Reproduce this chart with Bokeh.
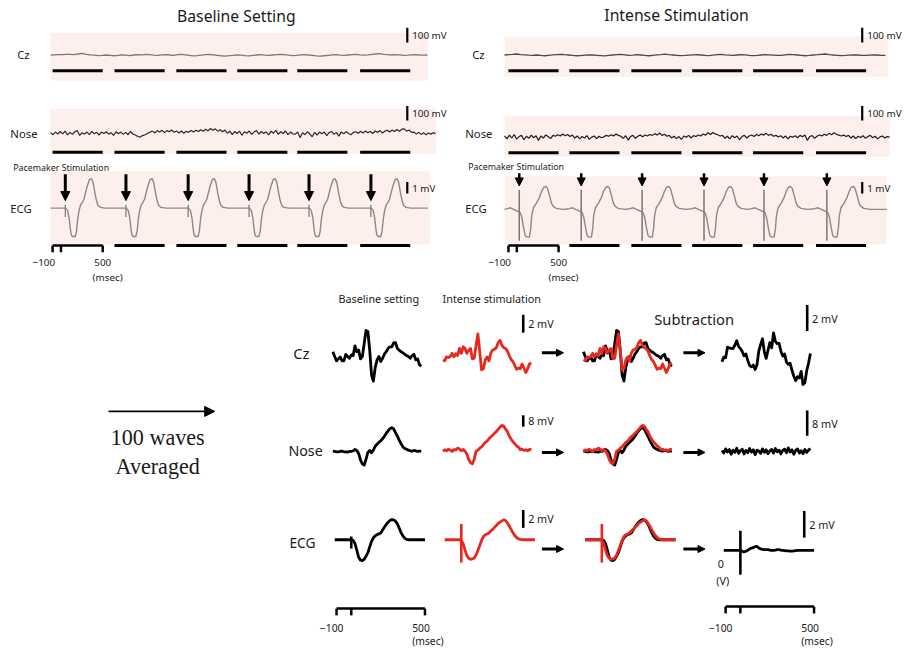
import numpy as np
from bokeh.plotting import figure
from bokeh.models import Range1d, Arrow, NormalHead
from bokeh.embed import file_html
from bokeh.resources import INLINE
from bokeh.core.properties import value

# ======================= DATA =======================
# ---- raw recordings (top). Cz / Nose in display units where 100 = "100 mV" bar ----
CZ_BASE_DT_MS = 47.5
CZ_BASE_RAW = [0, 2, 4, 3, 6, 5, 3, 8, 12, 6, 2, 0, -3, -2, 1, -1, -4, -2, 2, 0, -3, 1, 4, 2, 5, 3, 0,
               -2, 2, 4, 1, -1, 3, 6, 2, -2, -5, -3, 0, 3, 5, 2, -1, -4, -6, -3, -1, 2, 0, -3, -5, -2,
               1, 3, 0, -2, 1, 4, 6, 3, 0, -3, -1, 2, 4, 1, -2, -5, -7, -4, -1, 2, 3, 0, -2, 1, 3, 5,
               2, 0, 2, 5, 8, 10, 6, 3, 1, 4, 2, -1, 0, 2, 3, 1, 0, 1]
CZ_INT_DT_MS = 48.0
CZ_INT_RAW = [1, 3, 5, 8, 4, 2, 0, -1, 1, -2, -4, -1, 2, 4, 6, 3, 1, -2, -4, -3, 0, 2, 1, -1, -3, -5,
              -2, 1, 3, 5, 2, -1, 0, 3, 1, -2, -4, -1, 2, 4, 7, 3, 1, -1, -3, -2, 0, 2, 4, 1, -2, -3,
              0, 3, 5, 2, 0, -2, 1, 3, 2, -1, -3, -2, 1, 4, 2, 0, -2, -1, 2, 5, 3, 1, -1, -4, -2, 1,
              3, 6, 8, 4, 1, -1, -3, -2, 0, 2, 1, -1, -2, 0, 2, 1, -1, -2]
NOSE_DT_MS = 29.0
NOSE_BASE_RAW = [4, -10, 8, -6, 12, -4, 15, -11, 6, -8, 10, 18, -15, 4, -6, 8, -10, 12, -4, 6, -12,
                 8, -2, 10, -6, 4, -14, 10, -4, 8, -8, 6, -10, 12, -6, -12, -22,
                 -26, -16, -10, 0,
                 6, 16, 2, 18, 8, 20, 4, 18, 10, 22, 6, 16, 2, 15, 0, 14, 6, 18, 8, 20,
                 12, 24, 14, 28, 16, 32, 20, 30, 14, 24, 10, 22,
                 0, 14, -10, 12, -2, 14, -14, 10, 0, 15, -8, 9, 18, -6, 12, -2, 10, -12, 14, 0,
                 20, -8, 10, -2, 15, -10, 8, -4,
                 -6, 8, -30, 4, -10, 10, -4, -24, 6, -12, 8, -4, 8, -16, 4, 12, -8, 6, -20, 9,
                 -4, 10, -2, -10, 6,
                 10, 0, 14, 2, 16, 4, 12, -2, 15, 6, 18, 2, 14, 20, 8, 22, 12, 26, 14, 28,
                 30, 14, 22, 6, 8, -6, 6, -8, 4, -10, 2, -6, 4, -4]
NOSE_INT_RAW = [8, -12, 14, -6, 18, -14, 4, 12, -18, 6, -8, 14, -4, 10, -22, 8, -6, 15, 4, -10, 12,
                6, 16, 8, 22, 10, 18, 4, 14, -6, 8, -12, 4, -6, 10, -15, 0, 8, -10, 6, -4,
                2, 12, 6, 16, 8, 22, 12, 6, -8, 10, -20, 4, 12, -8, 6, 14, 2, 15, 8, 18,
                12, 24, 14, 28, 12, 20, 6, 12, -6, 6, -10, 4, -16, 8, 0, 12, -6, 10, 4, 15,
                8, 22, 14, 30, 18, 32, 22, 16, 8, 12, -8, 6, -12, 10, -4, 8, -18, 4, 12, -6,
                8, 15, 4, 18, 10, 22, 14, 26, 12, 20, 6, 12, 2, 10, -6, 8, -12, 6, 0, 10,
                -4, 12, 2, 14, -22, 4, 10, -8, 6, 15, 8, 20, 12, 26, 16, 30, 20, 14, 8, 14,
                4, 12, -6, 8, -10, 6, -2, 10, -8, 4, 12, -4, 6, -12, 2, 8, -6, 4, 0]
RAW_END_BASE_MS = 4518
RAW_END_INT_MS = 4576
STIM_BASE_MS = [176, 902, 1647, 2376, 3094, 3835]
STIM_INT_MS = [176, 918, 1647, 2388, 3106, 3859]
EPOCH_BASE_MS = [24, 765, 1506, 2235, 2953, 3706]
EPOCH_INT_MS = [47, 776, 1518, 2247, 2976, 3729]
EPOCH_SCALE_MS = [-100, 0, 500]
# single ECG beat (ms relative to pacing, mV)
BEAT_BASE_T = [-30, 0, 27, 47, 59, 71, 86, 118, 133, 149, 165, 184, 204, 224, 243, 263, 290, 314,
               333, 353, 373, 392, 420, 478]
BEAT_BASE_V = [0, 0, -0.2, -0.91, -1.77, -2.34, -2.49, -2.49, -2.06, -0.91, -0.2, 0.29, 0.51, 0.8,
               1.37, 1.94, 2.51, 2.57, 2.23, 1.37, 0.66, 0.23, 0.06, 0]
BEAT_INT_T = [-145, -106, -67, -27, 0, 12, 31, 51, 71, 90, 122, 137, 149, 169, 188, 208, 239, 267,
              294, 318, 337, 365, 384, 404, 443, 522]
BEAT_INT_V = [0.06, 0.14, 0, -0.14, -0.2, -0.29, -0.71, -1.57, -2.29, -2.43, -2.43, -1.71, -0.57,
              0.14, 0.34, 0.57, 1.0, 1.57, 1.94, 2.0, 1.86, 1.14, 0.57, 0.29, 0.09, 0]
ARTIFACT_BASE_RAW = [0.29, -0.77]
ARTIFACT_INT_RAW = [1.71, -2.74]
RAW_SCALE = {"Cz": 100, "Nose": 100, "ECG": 1}
RAW_UNIT = {"Cz": "100 mV", "Nose": "100 mV", "ECG": "1 mV"}

# ---- 100-wave averages (mV) ----
AVG_T0_MS = -125.0
AVG_DT_MS = 12.5
CZ_AVG_BASE = [0.18, -0.36, -0.84, -0.62, -0.40, -0.84, -0.84, -0.11, -0.36, -0.55,
               -0.18, -0.25, 0.84, 0.18, 0.36, -0.62, -0.36, 1.09, 2.55, 2.44,
               0.36, -2.4, -3.1, -1.56, -0.73, -0.36, -0.91, -0.55, -0.07, 0.18,
               0.55, 0.73, 0.73, 1.16, 1.20, 0.55, 0.36, 0.18, 0.07, -0.11,
               -0.25, -0.36, -0.55, -0.25, -0.11, -0.73, -0.62, -1.27, -1.45]
CZ_AVG_INT = [-0.73, -0.84, -0.40, -0.47, -0.36, 0.00, -0.40, -0.04, -0.25, 0.55,
              0.00, 0.73, 0.55, 0.00, 0.36, 0.55, -0.62, -0.55, 0.91, 2.18,
              0.18, -1.85, -1.71, -0.73, -0.40, -0.84, 0.04, 0.36, 0.47, 0.62,
              1.20, 1.45, 0.91, 0.62, 0.55, 0.25, -0.25, -0.69, -0.91, -1.35,
              -1.78, -1.64, -1.71, -1.20, -1.64, -2.15, -1.71, -1.20, -1.09]
CZ_AVG_SUB = [-0.68, -0.33, -0.38, 0.43, 0.38, 0.35, 0.33, 0.58, 0.93, 0.50,
              0.33, 0.10, -0.23, -0.08, -0.58, -0.98, -1.08, -0.93, -1.28, -0.93,
              0.13, 0.63, 1.08, 0.08, -0.43, 0.20, 0.78, 0.38, 1.53, 0.88,
              0.70, 0.73, 0.13, -0.25, -0.08, -0.70, -0.88, -0.80, -1.33, -1.80,
              -2.13, -1.83, -1.93, -1.43, -2.43, -2.30, -1.38, -0.78, -0.05]
NOSE_AVG_BASE = [0, -0.23, -0.46, -0.46, -0.23, 0, -0.46, -0.46, -0.69, -0.23,
                 -0.23, 0.23, 1.14, 0.46, -1.6, -6.17, -8.91, -9.83, -5.71, -0.91,
                 0.46, -1.14, 0.69, 3.43, 4.8, 6.17, 7.31, 8.69, 10.51, 12.57,
                 14.17, 15.77, 16.46, 15.54, 13.03, 10.51, 7.77, 5.26, 2.97, 1.83,
                 1.37, 0.69, 0.23, 0, 0.46, 0.23, -0.23, 0, 0]
NOSE_AVG_INT = [0, 0.91, 0.23, 1.37, 0.69, -0.23, 1.14, 0.69, 2.06, 1.6,
                0.23, 1.14, 0, -2.06, -5.71, -8.23, -8.91, -5.71, 0, 0.69,
                2.06, 2.97, 4.57, 6.17, 7.09, 8.69, 10.06, 11.2, 12.57, 13.71,
                15.31, 16.91, 18.06, 17.6, 15.54, 13.71, 10.74, 8.46, 6.63, 5.26,
                3.66, 2.74, 1.14, 1.37, 0.46, 0.91, 0.23, 1.14, 1.14]
NOSE_AVG_SUB = [0.3, -0.5, 0.8, -0.2, 0.6, -0.9, 0.4, -0.3, 1.0, -0.6,
                0.2, 0.7, -0.8, 0.3, -0.4, 0.9, -0.2, 0.5, -1.0, 0.4,
                0.1, -0.6, 0.8, -0.3, 0.5, -0.7, 0.2, 0.6, -0.5, 0.9,
                -0.1, 0.4, -0.8, 0.3, 0.7, -0.4, 1.1, -0.2, 0.5, -0.9,
                0.3, 0.8, -0.5, 0.2, -0.7, 0.6, -0.3, 0.4, 0.9]
ECG_T0_MS = -112.5
ECG_AVG_BASE = [0, 0, 0, 0, 0, 0, 0, 0, 0, 0,
                -0.07, -0.44, -1.16, -1.96, -2.29, -2.33, -2.18, -1.85, -1.45, -0.80,
                -0.18, 0.22, 0.44, 0.58, 0.65, 0.76, 1.09, 1.42, 1.71, 1.96,
                2.15, 2.25, 2.22, 2.07, 1.78, 1.31, 0.80, 0.44, 0.18, 0.04,
                0, 0, 0, 0, 0, 0, 0, 0, 0, 0]
ECG_AVG_INT = [0, 0, 0, 0, 0, 0, 0, 0, 0, -0.07,
               -0.44, -1.16, -1.78, -2.07, -2.18, -2.15, -2.04, -1.71, -1.20, -0.65,
               -0.07, 0.36, 0.55, 0.65, 0.76, 0.98, 1.16, 1.38, 1.60, 1.82,
               1.96, 2.11, 2.22, 2.15, 1.89, 1.53, 1.16, 0.80, 0.47, 0.25,
               0.11, 0.04, 0, 0, 0, 0, 0, 0, 0, 0]
ECG_AVG_SUB = [0, 0, 0, 0, 0, 0, 0, 0, 0, 0,
               -0.07, -0.12, -0.07, 0, 0.10, 0.17, 0.20, 0.27, 0.29, 0.17,
               0.10, 0.07, 0.05, 0.05, 0.05, 0.02, 0, 0, 0.02, 0.05,
               0.05, 0.02, 0, -0.02, -0.05, -0.05, -0.07, -0.07, -0.05, -0.02,
               0, 0, 0, 0, 0, 0, 0, 0, 0, 0]
ARTIFACT_AVG_BASE = [0.36, -0.98]
ARTIFACT_AVG_INT = [1.75, -2.55]
ARTIFACT_AVG_SUB = [1.46, -1.83]
AVG_SCALE_MV = {"Cz": 2, "Nose": 8, "ECG": 2}

# ======================= LAYOUT / STYLE =======================
FONT = "Noto Sans"
SERIF = "Liberation Serif"
TXT = "#1a1a1a"
RED = "#e8281e"
PINK = "#fcefec"
PW, PH = 902, 651
REF_W, REF_H = 918, 667          # layout is laid out on the reference's frame
FS = PW / REF_W                  # font scale so text keeps its relative size

p = figure(width=PW, height=PH, x_range=Range1d(0, REF_W), y_range=Range1d(REF_H, 0),
           output_backend="svg", toolbar_location=None, min_border=0,
           x_axis_location=None, y_axis_location=None, outline_line_color=None,
           background_fill_color="white", border_fill_color="white")
try:
    p.grid.visible = False
except Exception:
    pass


def label(x, y, t, size, align="left", font=FONT, color=TXT):
    p.text(x=[x], y=[y], text=[t], text_font=value(font), text_font_size=f"{size * FS:.2f}px",
           text_align=align, text_baseline="middle", text_color=color)


def vbar_scale(x, ytop, length, txt, size=10, w=2.5):
    p.segment(x0=[x], y0=[ytop], x1=[x], y1=[ytop + length], line_width=w, line_color="black")
    label(x + 5, ytop + length / 2, txt, size)


def arrow(x0, y0, x1, y1, w, hs):
    p.add_layout(Arrow(end=NormalHead(size=hs, fill_color="black", line_color="black", line_width=1),
                       x_start=x0, y_start=y0, x_end=x1, y_end=y1,
                       line_width=w, line_color="black"))


# ---------- top section ----------
TOP_PX_PER_MS = 0.085
TOP = [
    dict(x0=51, title="Baseline Setting", title_x=240, title_y=16,
         cz=CZ_BASE_RAW, cz_dt=CZ_BASE_DT_MS, cz_col="#7a7a7a",
         nose=NOSE_BASE_RAW, nose_col="#2a2a2a",
         beat_t=BEAT_BASE_T, beat_v=BEAT_BASE_V, stims=STIM_BASE_MS, end=RAW_END_BASE_MS,
         art=ARTIFACT_BASE_RAW, art_w=1.2, epochs=EPOCH_BASE_MS,
         panels={"Cz": (51, 435, 33, 82), "Nose": (51, 443, 111, 157), "ECG": (51, 437, 175, 250)},
         rows={"Cz": 56, "Nose": 136, "ECG": 212.7},
         bars={"Cz": 72, "Nose": 155.5, "ECG": 251},
         scale_x=414, scale_top={"Cz": 28, "Nose": 108, "ECG": 186},
         lab_x={"Cz": 17, "Nose": 10, "ECG": 10}, lab_y={"Cz": 55, "Nose": 136, "ECG": 213},
         pace=(13, 172), arrow=(178, 205, 3, 9)),
    dict(x0=513, title="Intense Stimulation", title_x=688, title_y=15,
         cz=CZ_INT_RAW, cz_dt=CZ_INT_DT_MS, cz_col="#4a4a4a",
         nose=NOSE_INT_RAW, nose_col="#1e1e1e",
         beat_t=BEAT_INT_T, beat_v=BEAT_INT_V, stims=STIM_INT_MS, end=RAW_END_INT_MS,
         art=ARTIFACT_INT_RAW, art_w=1.5, epochs=EPOCH_INT_MS,
         panels={"Cz": (513, 903, 37, 78), "Nose": (513, 905, 118, 160), "ECG": (513, 902, 180, 250)},
         rows={"Cz": 56, "Nose": 140, "ECG": 214},
         bars={"Cz": 72, "Nose": 156, "ECG": 251},
         scale_x=877, scale_top={"Cz": 28, "Nose": 108, "ECG": 186},
         lab_x={"Cz": 480, "Nose": 473, "ECG": 473}, lab_y={"Cz": 55, "Nose": 136, "ECG": 213},
         pace=(476, 171), arrow=(177, 190, 2.5, 8)),
]
RAW_GAIN = {"Cz": 0.15, "Nose": 0.15, "ECG": 11.7}

for c in TOP:
    tx = lambda t, c=c: c["x0"] + TOP_PX_PER_MS * np.asarray(t, dtype=float)
    for name, (l, r, t_, b) in c["panels"].items():
        p.quad(left=[l], right=[r], top=[t_], bottom=[b], fill_color=PINK, line_color=None)
    label(c["title_x"], c["title_y"], c["title"], 16, align="center")
    # Cz
    cz = np.asarray(c["cz"], float)
    p.line(tx(np.arange(len(cz)) * c["cz_dt"]), c["rows"]["Cz"] - cz * RAW_GAIN["Cz"],
           line_color=c["cz_col"], line_width=1.3)
    # Nose
    ns = np.asarray(c["nose"], float)
    p.line(tx(np.arange(len(ns)) * NOSE_DT_MS), c["rows"]["Nose"] - ns * RAW_GAIN["Nose"],
           line_color=c["nose_col"], line_width=1.2)
    # ECG built from beat template at each pacing time
    et, ev = [0.0], [0.0]
    for s in c["stims"]:
        et += [s + a for a in c["beat_t"]]
        ev += list(c["beat_v"])
    et.append(c["end"]); ev.append(0.0)
    y0 = c["rows"]["ECG"]
    p.line(tx(et), y0 - np.asarray(ev) * RAW_GAIN["ECG"], line_color="#8a8a8a", line_width=1.4)
    sx = tx(c["stims"])
    p.segment(x0=sx, x1=sx, y0=[y0 - c["art"][0] * RAW_GAIN["ECG"]] * len(sx),
              y1=[y0 - c["art"][1] * RAW_GAIN["ECG"]] * len(sx), line_color="#777777",
              line_width=c["art_w"])
    ya, yb, aw, ah = c["arrow"]
    for x in sx:
        arrow(x, ya, x, yb, aw, ah)
    label(c["pace"][0], c["pace"][1], "Pacemaker Stimulation", 9)
    # labels, scale bars, epoch bars
    for name in ["Cz", "Nose", "ECG"]:
        label(c["lab_x"][name], c["lab_y"][name], name, 11.5)
        vbar_scale(c["scale_x"], c["scale_top"][name], RAW_SCALE[name] * RAW_GAIN[name],
                   RAW_UNIT[name], 10, 2.2)
        by = c["bars"][name]
        ep = np.asarray(c["epochs"], float)
        st = ep if name != "ECG" else ep[1:]
        p.segment(x0=tx(st), x1=tx(st + EPOCH_SCALE_MS[-1] - EPOCH_SCALE_MS[0]),
                  y0=[by] * len(st), y1=[by] * len(st), line_width=3, line_color="black")
    # time bracket for first epoch
    e0 = c["epochs"][0]
    ticks = tx([e0 + m - EPOCH_SCALE_MS[0] for m in EPOCH_SCALE_MS])
    by = c["bars"]["ECG"]
    p.segment(x0=[ticks[0]], x1=[ticks[-1]], y0=[by], y1=[by], line_width=2.5, line_color="black")
    p.segment(x0=ticks, x1=ticks, y0=[by] * 3, y1=[by + 7] * 3, line_width=2.5, line_color="black")
    label(ticks[0] - 9, 268, "\u2212100", 10, align="center")
    label(ticks[-1], 268, "500", 10, align="center")
    label(ticks[-1] + 5, 283, "(msec)", 10, align="center")

# ---------- bottom section ----------
BOT_PX_PER_MS = 0.15
COL_X0 = [357, 469, 612, 753]         # x of t = 0 for each column
ROW_Y = {"Cz": 361.5, "Nose": 461.7, "ECG": 552.5}
SUB_ROW_Y = {"Cz": 361, "Nose": 462, "ECG": 563.3}
GAIN = {"Cz": 9.17, "Nose": 1.458, "ECG": 9.17}
SUB_GAIN = {"Cz": 13.33, "Nose": 3.25, "ECG": 13.67}


def btx(col, t):
    return COL_X0[col] + BOT_PX_PER_MS * np.asarray(t, dtype=float)


avg_t = AVG_T0_MS + AVG_DT_MS * np.arange(len(CZ_AVG_BASE))
ecg_t = ECG_T0_MS + AVG_DT_MS * np.arange(len(ECG_AVG_BASE))
W = 2.8
series = {"Cz": (avg_t, CZ_AVG_BASE, CZ_AVG_INT, CZ_AVG_SUB),
          "Nose": (avg_t, NOSE_AVG_BASE, NOSE_AVG_INT, NOSE_AVG_SUB),
          "ECG": (ecg_t, ECG_AVG_BASE, ECG_AVG_INT, ECG_AVG_SUB)}
for name, (tt, b, i, s) in series.items():
    y0, g = ROW_Y[name], GAIN[name]
    b = np.asarray(b); i = np.asarray(i); s = np.asarray(s)
    p.line(btx(0, tt), y0 - b * g, line_color="black", line_width=W, line_join="round")
    p.line(btx(1, tt), y0 - i * g, line_color=RED, line_width=W, line_join="round")
    p.line(btx(2, tt), y0 - b * g, line_color="black", line_width=W, line_join="round")
    p.line(btx(2, tt), y0 - i * g, line_color=RED, line_width=W, line_join="round")
    p.line(btx(3, tt), SUB_ROW_Y[name] - s * SUB_GAIN[name], line_color="black", line_width=W,
           line_join="round")

# stimulus artefacts on averaged ECG
y0, g = ROW_Y["ECG"], GAIN["ECG"]
for col, art, colr in [(0, ARTIFACT_AVG_BASE, "black"), (1, ARTIFACT_AVG_INT, RED),
                       (2, ARTIFACT_AVG_INT, RED)]:
    x = float(btx(col, 0))
    p.segment(x0=[x], x1=[x], y0=[y0 - art[0] * g], y1=[y0 - art[1] * g], line_color=colr,
              line_width=2.6)
x = float(btx(3, 0))
p.segment(x0=[x], x1=[x], y0=[SUB_ROW_Y["ECG"] - ARTIFACT_AVG_SUB[0] * SUB_GAIN["ECG"]],
          y1=[SUB_ROW_Y["ECG"] - ARTIFACT_AVG_SUB[1] * SUB_GAIN["ECG"]], line_color="black",
          line_width=2.6)

# scale bars
SB_TOP = {"Cz": 322, "Nose": 425, "ECG": 522}
SB_SUB_TOP = {"Cz": 312, "Nose": 420, "ECG": 523}
SB_SUB_X = {"Cz": 821, "Nose": 821, "ECG": 818}
for name in ["Cz", "Nose", "ECG"]:
    vbar_scale(532, SB_TOP[name], AVG_SCALE_MV[name] * GAIN[name], f"{AVG_SCALE_MV[name]} mV", 11, 2.6)
    vbar_scale(SB_SUB_X[name], SB_SUB_TOP[name], AVG_SCALE_MV[name] * SUB_GAIN[name],
               f"{AVG_SCALE_MV[name]} mV", 11, 2.6)

# arrows between columns
for yy in [361, 463, 562]:
    arrow(551, yy, 573, yy, 3, 7)
    arrow(695, yy, 717, yy, 3, 7)

# row / column labels
label(298, 361, "Cz", 15)
label(293, 461, "Nose", 14.5)
label(294, 555, "ECG", 14)
label(385, 305, "Baseline setting", 11, align="center")
label(500, 305, "Intense stimulation", 11, align="center")
label(706, 326, "Subtraction", 15, align="center")
label(733, 577, "0", 11, align="center")
label(735, 594, "(V)", 11, align="center")

# big arrow and averaging text
arrow(110, 421, 218, 421, 1.6, 10)
label(160, 448, "100 waves", 22.5, align="center", font=SERIF)
label(160, 477, "Averaged", 22.5, align="center", font=SERIF)

# time brackets (bottom)
for col, yb in [(0, 623), (3, 621)]:
    ticks = btx(col, EPOCH_SCALE_MS)
    p.segment(x0=[ticks[0]], x1=[ticks[-1]], y0=[yb], y1=[yb], line_width=2.5, line_color="black")
    p.segment(x0=ticks, x1=ticks, y0=[yb] * 3, y1=[yb + 7] * 3, line_width=2.5, line_color="black")
    label(ticks[0] - 5, 643, "\u2212100", 10.5, align="center")
    label(ticks[-1] - 4, 643, "500", 10.5, align="center")
    label(ticks[-1] + 3, 656, "(msec)", 10.5, align="center")

open("out.html", "w").write(file_html(p, INLINE))
